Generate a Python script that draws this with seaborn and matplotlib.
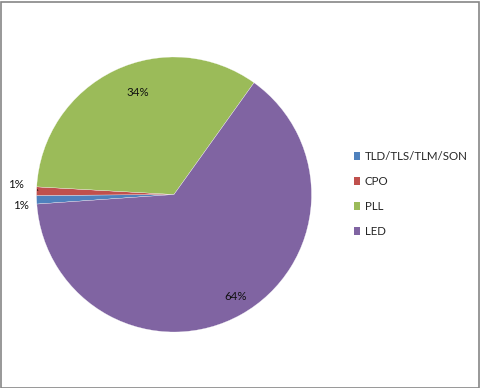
import matplotlib
matplotlib.use("Agg")
import matplotlib.pyplot as plt
import seaborn as sns
from matplotlib.patches import Rectangle
from matplotlib.lines import Line2D

categories = ["TLD/TLS/TLM/SON", "CPO", "PLL", "LED"]
values = [1, 1, 34, 64]
colors = ["#4F81BD", "#C0504D", "#9BBB59", "#8064A2"]

sns.set_theme(style="white")
plt.rcParams["font.family"] = ["Lato", "DejaVu Sans"]

fig = plt.figure(figsize=(4.8, 3.88), dpi=100)
ax = fig.add_axes([36.5 / 480, 56 / 388, 275 / 480, 275 / 388])

wedges, texts, autotexts = ax.pie(
    values, colors=colors, startangle=184, counterclock=False,
    autopct="%d%%", pctdistance=0.8,
    wedgeprops=dict(edgecolor="white", linewidth=0.2),
    textprops=dict(fontsize=8.3, color="#111111"),
)
ax.set_xlim(-1, 1)
ax.set_ylim(-1, 1)
ax.set_aspect("equal")
ax.axis("off")

# label placement (Excel best fit)
pos = [(-1.115, -0.08), (-1.15, 0.075), (-0.26, 0.74), (0.45, -0.74)]
for t, p in zip(autotexts, pos):
    t.set_position(p)
    t.set_ha("center")
    t.set_va("center")
# leader line for CPO label
ax.add_line(Line2D([-1.075, -1.035, -0.99], [0.068, 0.068, 0.03], color="black", lw=0.6))

handles = [Rectangle((0, 0), 1, 1, facecolor=c, edgecolor="none") for c in colors]
fig.legend(handles, categories, loc="center left", bbox_to_anchor=(354 / 480, 194 / 388),
           frameon=False, fontsize=8.3, handlelength=0.55, handleheight=0.6,
           handletextpad=0.4, labelspacing=1.22, borderaxespad=0, borderpad=0)

fig.add_artist(Rectangle((0.5 / 480, 0.5 / 388), 478 / 480, 386 / 388, transform=fig.transFigure,
                         fill=False, edgecolor="#868686", linewidth=1.2))

fig.savefig("out.png", dpi=100)
